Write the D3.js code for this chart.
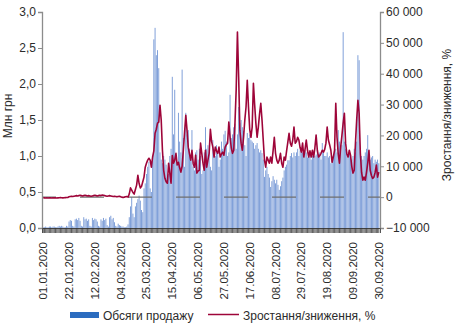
<!DOCTYPE html>
<html>
<head>
<meta charset="utf-8">
<script src="https://cdn.jsdelivr.net/npm/d3@7"></script>
<style>
  html, body { margin: 0; padding: 0; background: #fff; }
  svg { display: block; font-family: "Liberation Sans", Arial, sans-serif; }
</style>
</head>
<body>
<svg id="chart" width="455" height="325"></svg>
<script>
// Daily sales, mln UAH, 01.01.2020 – 30.09.2020
const salesMln = [
  0.01,0.01,0.02,0.01,0.01,0.02,0.02,0.01,0.02,0.02,
  0.01,0.01,0.02,0.03,0.02,0.03,0.02,0.01,0.01,0.03,
  0.02,0.09,0.11,0.10,0.03,0.02,0.12,0.13,0.11,0.14,
  0.10,0.03,0.02,0.15,0.12,0.13,0.10,0.12,0.03,0.02,
  0.14,0.11,0.13,0.12,0.09,0.03,0.02,0.12,0.10,0.14,
  0.11,0.13,0.04,0.02,0.15,0.17,0.12,0.14,0.08,0.03,
  0.02,0.06,0.04,0.03,0.02,0.02,0.01,0.01,0.02,0.05,
  0.15,0.30,0.43,0.20,0.15,0.30,0.35,0.40,0.45,0.38,
  0.25,0.22,0.55,0.62,0.75,0.85,0.92,0.55,0.50,1.00,
  2.62,2.78,2.40,2.47,2.22,1.05,0.95,0.90,1.00,0.95,
  0.88,0.70,0.75,1.00,1.10,2.10,1.30,1.92,1.00,0.90,
  1.60,1.20,1.05,2.20,1.25,0.85,1.60,1.30,1.36,1.10,
  1.00,1.36,0.85,0.80,1.05,1.08,0.95,1.10,1.00,0.75,
  0.80,1.05,1.40,1.10,1.15,1.05,0.85,0.80,1.22,1.10,
  1.00,1.15,1.05,0.85,0.95,1.20,1.10,1.30,1.35,1.20,
  1.00,1.05,1.85,1.25,1.30,1.40,1.45,1.10,1.30,1.68,
  1.46,1.50,1.40,1.35,1.15,1.00,1.32,1.25,1.30,1.22,
  1.20,1.18,1.10,1.15,1.18,1.10,1.05,1.08,1.04,0.95,
  0.71,0.80,0.85,0.75,0.70,0.57,0.65,0.72,0.67,0.62,
  0.67,0.60,0.53,0.58,0.65,0.70,0.80,0.85,0.88,0.94,
  0.94,1.00,1.04,0.98,1.05,1.00,1.05,1.10,1.00,1.08,
  1.10,1.05,1.00,1.08,1.05,0.98,1.00,1.05,0.95,1.00,
  1.05,1.00,1.02,1.10,1.00,1.05,0.95,1.18,1.05,1.00,
  1.00,1.05,0.98,1.00,0.90,0.95,1.00,1.05,1.10,1.05,
  1.36,1.20,1.05,1.15,2.72,1.20,1.10,1.05,1.00,1.05,
  1.00,0.95,1.00,1.10,1.05,1.20,2.40,2.33,1.05,1.00,
  0.95,1.00,1.05,1.10,1.29,1.00,0.95,0.98,1.00,0.90,
  0.95,0.92,0.95,0.90
];

// Growth / decline vs. base, %
const growthPct = [
  -200,-250,-300,-250,-300,-200,-250,-300,-250,-200,
  -250,-300,-250,-200,-150,-200,-250,-200,-150,-100,
  -100,100,200,300,200,300,400,500,400,500,
  600,500,400,500,600,500,400,500,400,300,
  400,500,600,500,400,500,600,500,700,600,
  500,400,300,400,500,400,300,200,300,200,
  100,200,300,100,0,-100,0,100,200,0,
  1000,3000,2300,1500,1000,2500,3900,7100,4500,3000,
  3500,5000,6500,9700,11000,12000,12600,12000,9700,13000,
  15000,20700,22000,24000,24300,29800,25000,15200,8700,6100,
  5000,4500,11000,7800,4500,13500,11000,12000,14200,10400,
  11300,9500,8100,10000,15200,21000,26500,21700,16200,14000,
  12000,15200,11000,9700,13600,7800,8500,8700,17500,14200,
  11000,8700,15200,9700,12000,14200,22000,18000,16200,13000,
  16200,15000,14200,16200,13000,14000,14600,13600,16200,17000,
  17500,24300,19400,16000,14200,15200,24000,35000,53500,38900,
  21700,17500,15200,19400,25000,29200,37900,29200,22000,19400,
  22700,36900,30000,24000,19400,22700,27000,30400,25000,18500,
  12000,9700,13000,12000,11000,13000,11000,15000,19400,14200,
  12000,11000,12000,14200,11000,9700,13000,12000,15000,17800,
  20700,17500,16500,18500,22700,17500,18000,19400,18500,16000,
  14600,17500,13000,15500,18500,15200,13000,15000,13000,15200,
  13000,16000,20100,15200,13000,13500,14200,15200,14600,15500,
  17500,22700,18500,17000,15200,11300,13000,15200,30400,19400,
  14000,11000,16200,20000,24000,27200,17500,14000,13000,15200,
  13600,10000,7800,8700,17500,25000,31400,27200,14200,8000,
  5500,6500,5500,8000,11000,15200,8700,7000,6100,6500,
  8000,10400,6500,8100
];

const dateTickLabels = [
  "01.01.2020","22.01.2020","12.02.2020","04.03.2020","25.03.2020",
  "15.04.2020","06.05.2020","27.05.2020","17.06.2020","08.07.2020",
  "29.07.2020","19.08.2020","09.09.2020","30.09.2020"
];
const leftTicks = [0, 0.5, 1.0, 1.5, 2.0, 2.5, 3.0];
const rightTicks = [-10000, 0, 10000, 20000, 30000, 40000, 50000, 60000];

const seriesNames = ["Обсяги продажу", "Зростання/зниження, %"];
const axisTitles = ["Млн грн", "Зростання/зниження, %"];

// ---- layout
const svg = d3.select("#chart");
const plot = { left: 42, right: 380, top: 12, bottom: 228 };

const fmtDay = d3.timeFormat("%d.%m.%Y");
const days = d3.timeDay.range(new Date(2020, 0, 1), new Date(2020, 9, 1)).map(fmtDay);

const x = d3.scaleBand()
  .domain(days)
  .range([plot.left, plot.right])
  .paddingInner(0.25)
  .paddingOuter(0.6);

const yL = d3.scaleLinear().domain([0, 3]).range([plot.bottom, plot.top]);
const yR = d3.scaleLinear().domain([-10000, 60000]).range([plot.bottom, plot.top]);

const salesData = days.map((d, i) => ({ day: d, v: salesMln[i] }));
const growthData = days.map((d, i) => ({ day: d, v: growthPct[i] }));

// ---- bars
svg.append("g")
  .selectAll("rect")
  .data(salesData)
  .join("rect")
  .attr("x", d => x(d.day))
  .attr("width", x.bandwidth())
  .attr("y", d => yL(d.v))
  .attr("height", d => yL(0) - yL(d.v))
  .attr("fill", "#7799d6");

// ---- dashed zero line of the right scale
svg.append("line")
  .attr("x1", plot.left).attr("x2", plot.right)
  .attr("y1", yR(0)).attr("y2", yR(0))
  .attr("stroke", "#6f6f6f")
  .attr("stroke-width", 1.3)
  .attr("stroke-dasharray", "24,24")
  .attr("stroke-dashoffset", 10);

// ---- growth line
const line = d3.line()
  .x(d => x(d.day) + x.bandwidth() / 2)
  .y(d => yR(d.v));

svg.append("path")
  .datum(growthData)
  .attr("d", line)
  .attr("fill", "none")
  .attr("stroke", "#9e0539")
  .attr("stroke-width", 1.6)
  .attr("stroke-linejoin", "round");

// ---- axes
const axisColor = "#8c8c8c";
const textColor = "#2b2b2b";

const gL = svg.append("g")
  .attr("transform", `translate(${plot.left},0)`)
  .call(d3.axisLeft(yL).tickValues(leftTicks).tickSize(4).tickPadding(2)
    .tickFormat(d => d3.format(".1f")(d).replace(".", ",")));
const gR = svg.append("g")
  .attr("transform", `translate(${plot.right},0)`)
  .call(d3.axisRight(yR).tickValues(rightTicks).tickSize(4).tickPadding(2)
    .tickFormat(d => d3.format(",")(d).replace(/,/g, " ").replace("-", "\u2212")));

[gL, gR].forEach(g => {
  g.select(".domain").attr("stroke", axisColor).attr("stroke-width", 1.3);
  g.selectAll(".tick line").attr("stroke", axisColor);
  g.selectAll(".tick text").attr("fill", textColor).style("font-size", "12px")
    .style("font-family", "'Liberation Sans', Arial, sans-serif");
});

// daily tick band along the date axis
const gX = svg.append("g")
  .attr("transform", `translate(0,${plot.bottom})`)
  .call(d3.axisBottom(x).tickValues(days).tickSize(5).tickFormat(""));
gX.select(".domain").attr("stroke", "#555");
gX.selectAll(".tick line").attr("stroke", "#333").attr("stroke-width", 0.8);

// rotated date labels
svg.append("g")
  .selectAll("text")
  .data(dateTickLabels)
  .join("text")
  .attr("transform", d => `translate(${x(d) + x.bandwidth() / 2 + 4},242) rotate(-90)`)
  .attr("text-anchor", "end")
  .attr("fill", textColor)
  .style("font-size", "11.5px")
  .text(d => d);

// axis titles
svg.append("text")
  .attr("transform", "translate(12,116) rotate(-90)")
  .attr("text-anchor", "middle")
  .attr("fill", textColor)
  .style("font-size", "12px")
  .text(axisTitles[0]);
svg.append("text")
  .attr("transform", "translate(451,115) rotate(-90)")
  .attr("text-anchor", "middle")
  .attr("fill", textColor)
  .style("font-size", "12px")
  .text(axisTitles[1]);

// legend
const lg = svg.append("g");
lg.append("rect").attr("x", 70).attr("y", 312).attr("width", 29).attr("height", 6).attr("fill", "#2b6cbf");
lg.append("text").attr("x", 103).attr("y", 320).attr("fill", textColor).style("font-size", "12px").text(seriesNames[0]);
lg.append("line").attr("x1", 208).attr("x2", 239).attr("y1", 314.5).attr("y2", 314.5)
  .attr("stroke", "#9e0539").attr("stroke-width", 1.5);
lg.append("text").attr("x", 243).attr("y", 320).attr("fill", textColor).style("font-size", "12px").text(seriesNames[1]);
</script>
</body>
</html>
